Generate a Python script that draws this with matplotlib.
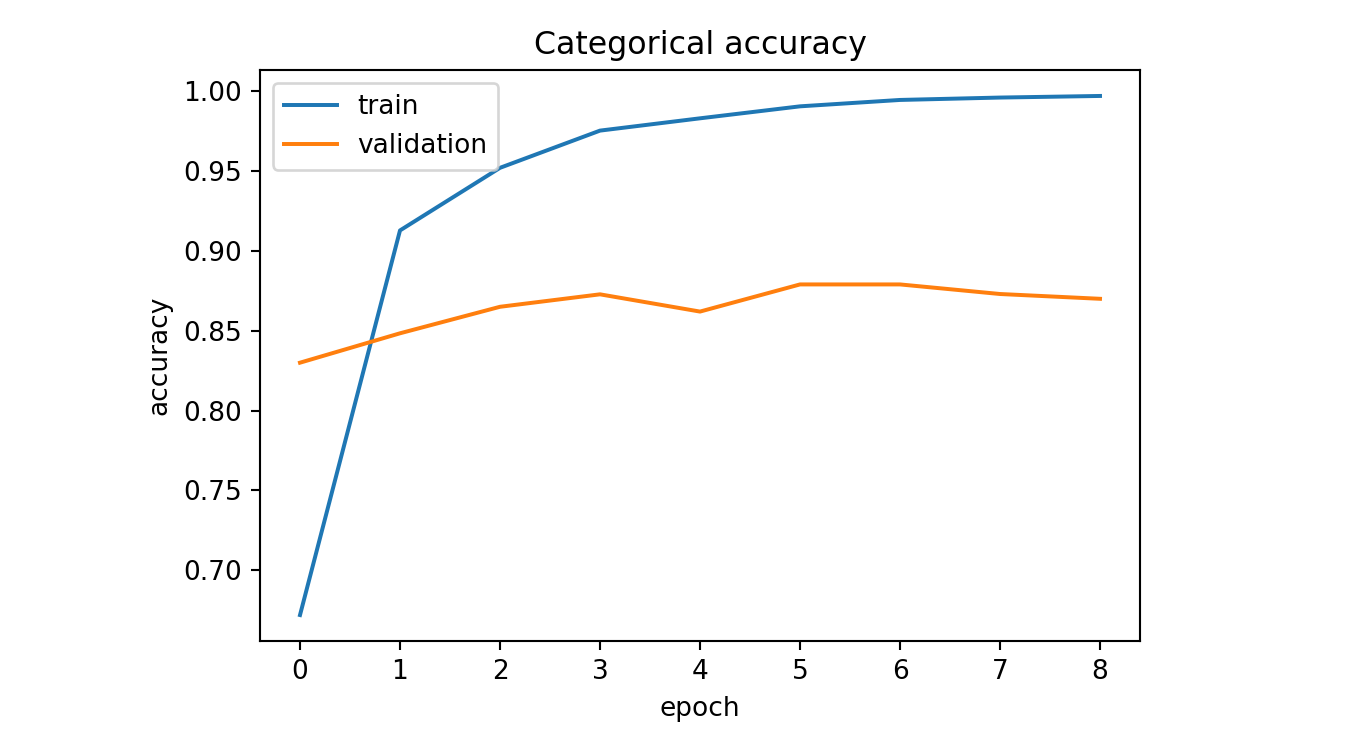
import numpy as np
import matplotlib
matplotlib.use("Agg")
import matplotlib.pyplot as plt

# accuracy per epoch
epochs = [0, 1, 2, 3, 4, 5, 6, 7, 8]
train_acc = [0.672, 0.9128, 0.952, 0.9753, 0.983, 0.9905, 0.9945, 0.996, 0.997]
val_acc = [0.830, 0.8484, 0.865, 0.8728, 0.862, 0.879, 0.879, 0.873, 0.870]

dpi = 190
fig = plt.figure(figsize=(1346 / dpi, 746 / dpi), dpi=dpi)
ax = fig.add_axes([260 / 1346, 105 / 746, 880 / 1346, 571 / 746])

ax.plot(epochs, train_acc, label="train")
ax.plot(epochs, val_acc, label="validation")

ax.set_title("Categorical accuracy")
ax.set_ylabel("accuracy")
ax.set_xlabel("epoch")
ax.legend(loc="upper left")

fig.savefig("out.png", dpi=dpi)
